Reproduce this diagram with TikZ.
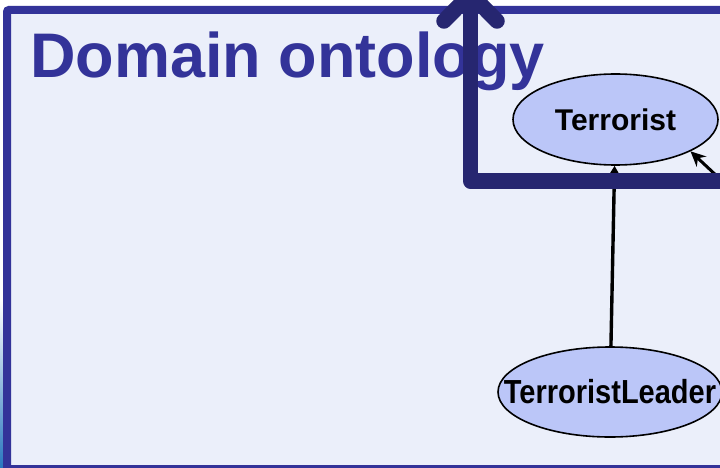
\documentclass[tikz,border=0pt]{standalone}
\usepackage{graphicx}
\usepackage{fontspec}
\setmainfont{Liberation Sans}
\usetikzlibrary{shapes.geometric,arrows.meta}
\definecolor{slidenavy}{RGB}{51,51,153}
\definecolor{slidebg}{RGB}{235,239,250}
\definecolor{bandnavy}{RGB}{38,38,112}
\definecolor{conceptfill}{RGB}{187,198,248}
\definecolor{stripblue}{RGB}{40,118,190}
\tikzset{
  concept/.style={ellipse, draw=black, line width=1.6pt, fill=conceptfill,
    inner sep=0pt, font=\fontsize{30}{34}\selectfont\bfseries},
  isa/.style={line width=3.4pt, -{Triangle[length=9pt,width=10pt]}},
  band/.style={draw=bandnavy, line width=15.5pt, line join=round},
}
\begin{document}
\begin{tikzpicture}[x=1pt,y=-1pt]
    \useasboundingbox (0,0) rectangle (720,468);
    \clip (0,0) rectangle (720,468);
    %% slide edge
    \shade[top color=white, bottom color=stripblue] (0,300) rectangle (4,468);
    %% frame
    \draw[draw=slidenavy, fill=slidebg, line width=8pt, rounded corners=2pt] (7,10) rectangle (745,469);
    \node[anchor=base west, inner sep=0pt, text=slidenavy,
      font=\fontsize{63}{70}\selectfont\bfseries] (title) at (30,78) {Domain ontology};
    %% concepts
    \node[concept, minimum width=205pt, minimum height=91pt] (terr) at (615.5,119.5)
      {\makebox[0pt]{Terrorist}};
    \node[concept, minimum width=224pt, minimum height=90pt] (leader) at (610,392)
      {\makebox[0pt]{\fontsize{29}{34}\selectfont\scalebox{1}[1.15]{TerroristLeader}}};
    \coordinate (offright) at (735,193);
    %% links
    \draw[isa] (leader) -- (terr);
    \draw[line width=3pt, -{Stealth[length=15pt,width=14pt]}] (offright) -- (terr.-23);
    %% thick arrow
    \draw[band, line cap=round] (444,21) -- (470.5,-6) -- (497,21);
    \draw[band] (470.5,-6) -- (470.5,181) -- (745,181);
\end{tikzpicture}
\end{document}
